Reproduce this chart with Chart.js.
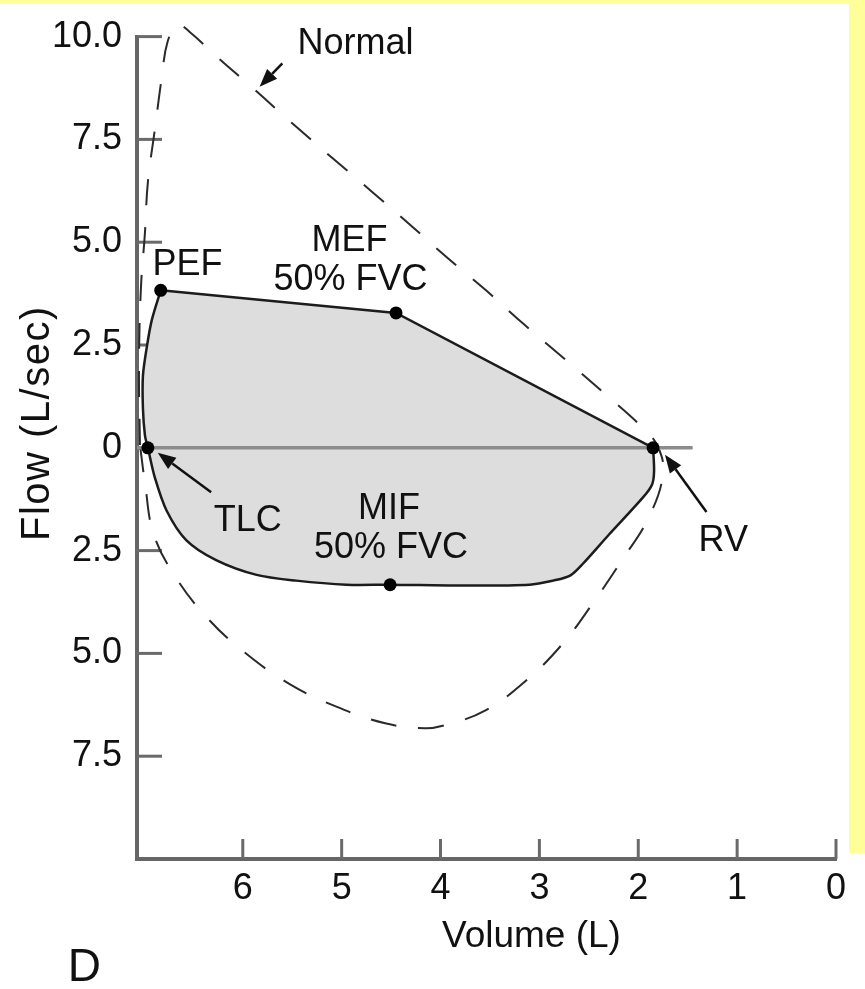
<!DOCTYPE html>
<html><head><meta charset="utf-8">
<script src="https://cdn.jsdelivr.net/npm/chart.js@4.4.1/dist/chart.umd.min.js"></script>
<style>
html,body{margin:0;padding:0;background:#fff;}
#wrap{position:relative;width:865px;height:989px;overflow:hidden;}
.band{position:absolute;background:#ffff99;}
canvas{position:absolute;left:0;top:0;}
</style></head><body>
<div id="wrap">
<div class="band" style="left:0;top:0;width:865px;height:4px"></div>
<div class="band" style="left:849px;top:0;width:16px;height:853px"></div>
<canvas id="c" width="865" height="989"></canvas>
</div>
<script>
// ---- tick values / labels ----
const xTickValues = [0, 1, 2, 3, 4, 5, 6];
const xTickLabels = ['0', '1', '2', '3', '4', '5', '6'];
const yTickValues = [-7.5, -5, -2.5, 0, 2.5, 5, 7.5, 10];
const yTickLabels = ['7.5', '5.0', '2.5', '0', '2.5', '5.0', '7.5', '10.0'];

// ---- patient loop (volume L, flow L/sec; inspiration negative) ----
const upperVol  = [6.83, 4.45, 1.85];           // PEF -> MEF -> RV
const upperFlow = [3.83, 3.28, 0];
const lowerVol  = [1.85, 1.84, 1.86, 1.95, 2.30, 2.56, 2.69, 2.86, 3.10, 3.80, 4.51, 4.95, 5.46, 5.86, 6.27, 6.57, 6.77, 6.89, 6.96, 6.99, 7.01, 7.01, 6.97, 6.92, 6.83];
const lowerFlow = [0, -0.57, -0.89, -1.20, -2.12, -2.82, -3.11, -3.23, -3.33, -3.35, -3.33, -3.33, -3.23, -3.09, -2.73, -2.25, -1.53, -0.72, 0, 0.31, 0.96, 1.75, 2.46, 3.11, 3.83];

// ---- key points: PEF, MEF, RV, TLC, MIF ----
const keyVol  = [6.83, 4.45, 1.85, 6.96, 4.51];
const keyFlow = [3.83, 3.28, 0, 0, -3.33];

// ---- normal loop (dashed) ----
const normalVol  = [7.04, 7.05, 7.03, 6.99, 6.96, 6.89, 6.82, 6.76, 6.66, 6.54, 6.28, 5.88, 5.50, 5.10, 4.70, 4.32, 3.94, 3.54, 3.15, 2.74, 2.35, 1.96, 1.80, 1.75, 1.90, 2.17, 2.46, 2.77, 3.14, 3.55, 3.96, 4.16, 4.56, 5.06, 5.53, 5.98, 6.35, 6.67, 6.90, 6.99, 7.04];
const normalFlow = [0.07, 1.99, 3.90, 5.22, 6.46, 7.73, 9.00, 9.88, 10.29, 10.12, 9.55, 8.71, 7.89, 7.06, 6.24, 5.45, 4.64, 3.83, 2.99, 2.15, 1.34, 0.50, 0.02, -0.65, -1.72, -2.75, -3.78, -4.78, -5.67, -6.39, -6.75, -6.82, -6.70, -6.29, -5.74, -4.98, -4.16, -3.18, -2.11, -0.84, 0.07];

// ---- zero-flow line ----
const zeroVol  = [7.07, 1.45];
const zeroFlow = [0, 0];

const pts = (xs, ys) => xs.map((v, i) => ({x: v, y: ys[i]}));

const FONT = '"Liberation Sans", Arial, Helvetica, sans-serif';

// annotations (text anchored in data space)
const annotations = [
  {t: 'Normal',  x: 4.86, y: 9.57},
  {t: 'PEF',     x: 6.56, y: 4.21},
  {t: 'MEF',     x: 4.92, y: 4.78},
  {t: '50% FVC', x: 4.91, y: 3.83},
  {t: 'TLC',     x: 5.95, y: -2.03},
  {t: 'MIF',     x: 4.52, y: -1.72},
  {t: '50% FVC', x: 4.50, y: -2.68},
  {t: 'RV',      x: 1.14, y: -2.51}
];
const arrows = [
  {x1: 5.60, y1: 9.35, x2: 5.83, y2: 8.78},
  {x1: 6.32, y1: -1.08, x2: 6.86, y2: -0.12},
  {x1: 1.31, y1: -1.56, x2: 1.73, y2: -0.17}
];

const innerTicks = {
  id: 'innerTicks',
  beforeDatasetsDraw(chart) {
    const {ctx, scales: {x, y}, chartArea} = chart;
    ctx.save();
    ctx.strokeStyle = '#6a6a6a';
    ctx.lineWidth = 3;
    xTickValues.forEach(v => {
      const px = x.getPixelForValue(v);
      ctx.beginPath(); ctx.moveTo(px, chartArea.bottom); ctx.lineTo(px, chartArea.bottom - 20); ctx.stroke();
    });
    yTickValues.forEach(v => {
      const py = y.getPixelForValue(v);
      ctx.beginPath(); ctx.moveTo(chartArea.left, py); ctx.lineTo(chartArea.left + 25, py); ctx.stroke();
    });
    ctx.restore();
  }
};

const anno = {
  id: 'anno',
  afterDraw(chart) {
    const {ctx, scales: {x, y}} = chart;
    ctx.save();
    ctx.fillStyle = '#111';
    ctx.font = '36px ' + FONT;
    ctx.textAlign = 'center';
    ctx.textBaseline = 'alphabetic';
    annotations.forEach(a => ctx.fillText(a.t, x.getPixelForValue(a.x), y.getPixelForValue(a.y)));
    // arrows
    ctx.strokeStyle = '#111';
    ctx.lineWidth = 2.5;
    arrows.forEach(a => {
      const x1 = x.getPixelForValue(a.x1), y1 = y.getPixelForValue(a.y1);
      const x2 = x.getPixelForValue(a.x2), y2 = y.getPixelForValue(a.y2);
      const ang = Math.atan2(y2 - y1, x2 - x1);
      const hl = 18, hw = 7;
      const bx = x2 - hl * Math.cos(ang), by = y2 - hl * Math.sin(ang);
      ctx.beginPath(); ctx.moveTo(x1, y1); ctx.lineTo(bx, by); ctx.stroke();
      ctx.beginPath();
      ctx.moveTo(x2, y2);
      ctx.lineTo(bx + hw * Math.sin(ang), by - hw * Math.cos(ang));
      ctx.lineTo(bx - hw * Math.sin(ang), by + hw * Math.cos(ang));
      ctx.closePath(); ctx.fill();
    });
    // axis titles
    ctx.font = '37px ' + FONT;
    ctx.fillText('Volume (L)', x.getPixelForValue(3.08), y.getPixelForValue(-12.13));
    ctx.save();
    ctx.translate(x.getPixelForValue(7.96), y.getPixelForValue(0.6));
    ctx.rotate(-Math.PI / 2);
    ctx.font = '40px ' + FONT;
    if ('letterSpacing' in ctx) ctx.letterSpacing = '1.5px';
    ctx.fillText('Flow (L/sec)', 0, 0);
    ctx.restore();
    // panel letter
    ctx.font = '46px ' + FONT;
    ctx.textAlign = 'left';
    ctx.fillText('D', x.getPixelForValue(7.77), y.getPixelForValue(-12.97));
    ctx.restore();
  }
};

new Chart(document.getElementById('c'), {
  type: 'scatter',
  data: {
    datasets: [
      {label: 'key', data: pts(keyVol, keyFlow), pointRadius: 6.5, pointBackgroundColor: '#000', pointBorderWidth: 0, showLine: false, order: 0},
      {label: 'upper', data: pts(upperVol, upperFlow), showLine: true, tension: 0, borderColor: '#1c1c1c', borderWidth: 2.5, pointRadius: 0, order: 1},
      {label: 'lower', data: pts(lowerVol, lowerFlow), showLine: true, tension: 0.3, borderColor: '#1c1c1c', borderWidth: 2.5, pointRadius: 0, order: 1},
      {label: 'zero', data: pts(zeroVol, zeroFlow), showLine: true, borderColor: '#8c8c8c', borderWidth: 3.5, pointRadius: 0, order: 2},
      {label: 'normal', data: pts(normalVol, normalFlow), showLine: true, tension: 0.4, borderColor: '#2a2a2a', borderWidth: 2, borderDash: [26, 22], pointRadius: 0, clip: false, order: 3},
      {label: 'fill', data: pts(upperVol.concat(lowerVol.slice(1)), upperFlow.concat(lowerFlow.slice(1))), showLine: true, tension: 0, borderColor: 'rgba(0,0,0,0)', borderWidth: 0, pointRadius: 0, fill: 'shape', backgroundColor: '#dddddd', order: 4}
    ]
  },
  options: {
    responsive: false,
    animation: false,
    devicePixelRatio: 1,
    layout: {padding: {left: 0, right: 29, top: 26, bottom: 0}},
    plugins: {legend: {display: false}, tooltip: {enabled: false}},
    scales: {
      x: {
        type: 'linear', reverse: true, min: 0, max: 7.07,
        afterBuildTicks: s => { s.ticks = xTickValues.map(v => ({value: v})); },
        afterFit: s => { s.height = 130; },
        ticks: {callback: (v, i) => xTickLabels[i], font: {size: 36, family: FONT}, color: '#111', padding: 8, maxRotation: 0, autoSkip: false},
        grid: {display: true, drawOnChartArea: false, drawTicks: false},
        border: {display: true, color: '#666', width: 4}
      },
      y: {
        type: 'linear', min: -10, max: 10,
        afterBuildTicks: s => { s.ticks = yTickValues.map(v => ({value: v})); },
        afterFit: s => { s.width = 137; },
        ticks: {callback: (v, i) => yTickLabels[i], font: {size: 36, family: FONT}, color: '#111', padding: 15, autoSkip: false},
        grid: {display: true, drawOnChartArea: false, drawTicks: false},
        border: {display: true, color: '#666', width: 4}
      }
    }
  },
  plugins: [innerTicks, anno]
});
</script>
</body></html>
